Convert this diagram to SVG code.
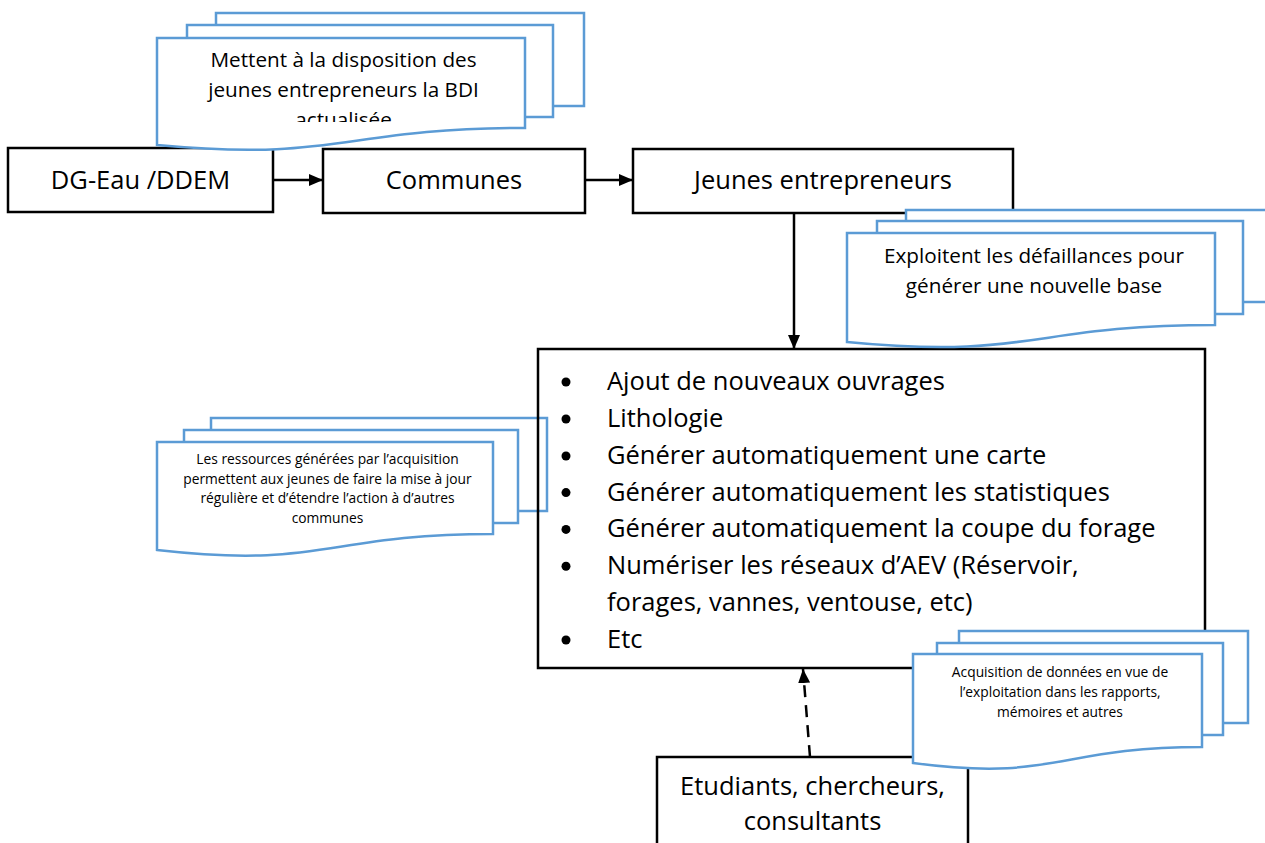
<svg xmlns="http://www.w3.org/2000/svg" width="1265" height="843" viewBox="0 0 1265 843">
<defs>
<style>
.box{fill:#fff;stroke:#000;stroke-width:2.5}
.boxn{fill:none;stroke:#000;stroke-width:2.5}
.doc{fill:#fff;stroke:#5B9BD5;stroke-width:2.5;stroke-linejoin:miter}
.t{font-family:"Open Sans","Liberation Sans",sans-serif;fill:#000;text-anchor:middle}
.lg{font-size:25.5px}
.md{font-size:20.7px}
.sm{font-size:13.8px}
.bl{font-family:"Open Sans","Liberation Sans",sans-serif;fill:#000;font-size:25.5px}
.con{stroke:#000;stroke-width:2.5;fill:none}
</style>
<marker id="ah" viewBox="0 0 14 12" refX="14" refY="6" markerWidth="14" markerHeight="12" markerUnits="userSpaceOnUse" orient="auto">
<path d="M0,0 L14,6 L0,12 Z" fill="#000"/>
</marker>
<clipPath id="clipTL"><rect x="150" y="38" width="380" height="84"/></clipPath>
</defs>

<g id="dg-eau">
<rect class="box" x="8" y="148" width="265" height="64"/>
<text class="t lg" x="140.5" y="188.5">DG-Eau /DDEM</text>
</g>
<g id="communes">
<rect class="box" x="323" y="149" width="262" height="64"/>
<text class="t lg" x="454" y="188.5">Communes</text>
</g>
<g id="jeunes">
<rect class="box" x="633" y="149" width="380" height="64"/>
<text class="t lg" x="823" y="188.5">Jeunes entrepreneurs</text>
</g>

<g id="etudiants">
<rect class="box" x="657" y="757" width="311" height="100"/>
<text class="t lg" x="812.5" y="795">Etudiants, chercheurs,</text>
<text class="t lg" x="812.5" y="830">consultants</text>
</g>

<g id="doc-ressources">
<rect class="doc" x="211" y="418" width="336" height="93"/>
<rect class="doc" x="184" y="430" width="334" height="93"/>
<path class="doc" d="M157,442 H493 V534 C325,534 325,569 157,550 Z"/>
<text class="t sm" x="327.5" y="464.3">Les ressources générées par l’acquisition</text>
<text class="t sm" x="327.5" y="483.8">permettent aux jeunes de faire la mise à jour</text>
<text class="t sm" x="327.5" y="503.3">régulière et d’étendre l’action à d’autres</text>
<text class="t sm" x="327.5" y="522.8">communes</text>
</g>

<g id="main">
<rect class="boxn" x="538" y="349" width="667" height="319"/>
<g fill="#000">
<circle cx="566" cy="382" r="4.5"/>
<circle cx="566" cy="419" r="4.5"/>
<circle cx="566" cy="456" r="4.5"/>
<circle cx="566" cy="492.6" r="4.5"/>
<circle cx="566" cy="529.4" r="4.5"/>
<circle cx="566" cy="566.3" r="4.5"/>
<circle cx="566" cy="640" r="4.5"/>
</g>
<text class="bl" x="607" y="390">Ajout de nouveaux ouvrages</text>
<text class="bl" x="607" y="426.9">Lithologie</text>
<text class="bl" x="607" y="463.7">Générer automatiquement une carte</text>
<text class="bl" x="607" y="500.6">Générer automatiquement les statistiques</text>
<text class="bl" x="607" y="537.4">Générer automatiquement la coupe du forage</text>
<text class="bl" x="607" y="574.3">Numériser les réseaux d’AEV (Réservoir,</text>
<text class="bl" x="607" y="611.1">forages, vannes, ventouse, etc)</text>
<text class="bl" x="607" y="648">Etc</text>
</g>

<g id="connectors">
<line class="con" x1="273" y1="180" x2="323" y2="180" marker-end="url(#ah)"/>
<line class="con" x1="585" y1="180" x2="633" y2="180" marker-end="url(#ah)"/>
<line class="con" x1="794" y1="213" x2="794" y2="349" marker-end="url(#ah)"/>
<line class="con" x1="810" y1="757" x2="803" y2="669" stroke-dasharray="12 8" marker-end="url(#ah)"/>
</g>

<g id="doc-bdi">
<rect class="doc" x="216" y="13" width="368" height="93"/>
<rect class="doc" x="187" y="25" width="366" height="92"/>
<path class="doc" d="M157,38 H525 V128 C341,128 341,162 157,145 Z"/>
<g clip-path="url(#clipTL)">
<text class="t md" x="343.5" y="66.7">Mettent à la disposition des</text>
<text class="t md" x="343.5" y="96.7">jeunes entrepreneurs la BDI</text>
<text class="t md" x="343.5" y="126.7">actualisée</text>
</g>
</g>

<g id="doc-defaillances">
<rect class="doc" x="906" y="210" width="370" height="92"/>
<rect class="doc" x="877" y="221" width="366" height="93"/>
<path class="doc" d="M847,233 H1215 V325 C1031,325 1031,360 847,342 Z"/>
<text class="t md" x="1034" y="263.3">Exploitent les défaillances pour</text>
<text class="t md" x="1034" y="292.7">générer une nouvelle base</text>
</g>

<g id="doc-acquisition">
<rect class="doc" x="959" y="631" width="289" height="92"/>
<rect class="doc" x="937" y="643" width="286" height="92"/>
<path class="doc" d="M913,654 H1202 V747 C1057,747 1057,782 913,763 Z"/>
<text class="t sm" x="1060" y="676.7">Acquisition de données en vue de</text>
<text class="t sm" x="1060" y="697.2">l’exploitation dans les rapports,</text>
<text class="t sm" x="1060" y="716.7">mémoires et autres</text>
</g>
</svg>
